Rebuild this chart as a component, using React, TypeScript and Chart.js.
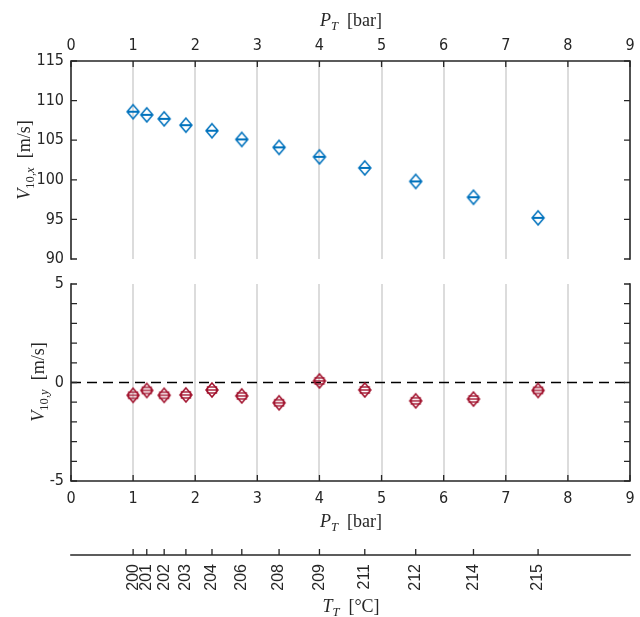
import React, { useEffect, useRef } from 'react';
import { Chart, registerables } from 'chart.js';
Chart.register(...registerables);

// ---- data ----
const pressure = [1.0, 1.22, 1.5, 1.85, 2.27, 2.75, 3.35, 4.0, 4.73, 5.55, 6.48, 7.52];
const temperature = ['200', '201', '202', '203', '204', '206', '208', '209', '211', '212', '214', '215'];
const vx = [108.6, 108.2, 107.7, 106.9, 106.2, 105.1, 104.1, 102.9, 101.5, 99.8, 97.8, 95.2];
const vy = [-0.65, -0.4, -0.65, -0.63, -0.38, -0.68, -1.03, 0.08, -0.38, -0.93, -0.84, -0.4];
const pTicks = [0, 1, 2, 3, 4, 5, 6, 7, 8, 9];
const vxTicks = [90, 95, 100, 105, 110, 115];
const vyLabelTicks = [-5, 0, 5];
const vyMinorTicks = [-5, -4, -3, -2, -1, 0, 1, 2, 3, 4, 5];
const zeroLine = [0, 0];
const zeroLineX = [0, 9];

const BLUE = '#0072BD';
const RED = '#A2142F';
const AXIS = '#262626';
const GRID = '#dcdcdc';
const TICK_FONT = { family: "'Liberation Sans Narrow', 'DejaVu Sans Condensed', 'Liberation Sans', Arial, sans-serif", size: 16 };
const ROT_FONT = { family: "'Liberation Sans', Arial, sans-serif", size: 16 };

type FrameCfg = {
  top?: boolean; bottom?: boolean; left?: boolean; right?: boolean;
  xTicks?: number[]; xEdge?: 'top' | 'bottom';
  yTicks?: number[]; yAxisId?: string;
};

const framePlugin = (id: string, cfg: FrameCfg) => ({
  id,
  afterDraw(chart: any) {
    const { ctx, chartArea: a, scales } = chart;
    const xs = scales.x;
    const ys = scales[cfg.yAxisId || 'y'];
    const L = 6;
    ctx.save();
    ctx.strokeStyle = AXIS;
    ctx.lineWidth = 1.6;
    ctx.lineCap = 'square';
    ctx.beginPath();
    if (cfg.top) { ctx.moveTo(a.left, a.top); ctx.lineTo(a.right, a.top); }
    if (cfg.bottom) { ctx.moveTo(a.left, a.bottom); ctx.lineTo(a.right, a.bottom); }
    if (cfg.left) { ctx.moveTo(a.left, a.top); ctx.lineTo(a.left, a.bottom); }
    if (cfg.right) { ctx.moveTo(a.right, a.top); ctx.lineTo(a.right, a.bottom); }
    ctx.stroke();
    ctx.lineCap = 'butt';
    ctx.lineWidth = 1.3;
    ctx.beginPath();
    (cfg.xTicks || []).forEach((v) => {
      const px = xs.getPixelForValue(v);
      if (cfg.xEdge === 'top') { ctx.moveTo(px, a.top); ctx.lineTo(px, a.top + L); }
      else { ctx.moveTo(px, a.bottom); ctx.lineTo(px, a.bottom - L); }
    });
    if (ys) {
      (cfg.yTicks || []).forEach((v) => {
        const py = ys.getPixelForValue(v);
        if (cfg.left) { ctx.moveTo(a.left, py); ctx.lineTo(a.left + L, py); }
        if (cfg.right) { ctx.moveTo(a.right, py); ctx.lineTo(a.right - L, py); }
      });
    }
    ctx.stroke();
    ctx.restore();
  },
});

const gridColor = (c: any) => (c.tick && c.tick.value > 0 && c.tick.value < 9 ? GRID : 'rgba(0,0,0,0)');

const baseOpts = {
  animation: false as const,
  responsive: false,
  maintainAspectRatio: false,
  events: [] as any[],
  plugins: { legend: { display: false }, tooltip: { enabled: false } },
};

// marker glyph: diamond with a horizontal error-bar stroke (and optional small box)
function makeMarker(color: string, withBox: boolean): HTMLCanvasElement {
  const cv = document.createElement('canvas');
  cv.width = 18; cv.height = 18;
  const g = cv.getContext('2d')!;
  const cx = 9, cy = 9;
  g.strokeStyle = color;
  g.lineWidth = 1.5;
  g.beginPath();
  g.moveTo(cx, cy - 7); g.lineTo(cx + 6, cy); g.lineTo(cx, cy + 7); g.lineTo(cx - 6, cy); g.closePath();
  g.stroke();
  if (withBox) {
    g.lineWidth = 1.4;
    g.strokeRect(cx - 4.5, cy - 3, 9, 6);
    g.beginPath(); g.moveTo(cx - 4.5, cy); g.lineTo(cx + 4.5, cy); g.stroke();
  } else {
    g.lineWidth = 2;
    g.beginPath(); g.moveTo(cx - 6, cy); g.lineTo(cx + 6, cy); g.stroke();
  }
  return cv;
}

const markerSet = (ys: number[], color: string, withBox: boolean) => ({
  data: pressure.map((p, i) => ({ x: p, y: ys[i] })),
  pointStyle: makeMarker(color, withBox),
  pointRadius: 7,
  borderColor: color,
  showLine: false,
});

function useChart(ref: React.RefObject<HTMLCanvasElement | null>, make: (c: HTMLCanvasElement) => Chart) {
  useEffect(() => {
    if (!ref.current) return;
    const ch = make(ref.current);
    return () => ch.destroy();
  }, []);
}

export default function App() {
  const topRef = useRef<HTMLCanvasElement | null>(null);
  const botRef = useRef<HTMLCanvasElement | null>(null);
  const tRef = useRef<HTMLCanvasElement | null>(null);

  useChart(topRef, (c) => new Chart(c, {
    type: 'scatter',
    data: { datasets: [markerSet(vx, BLUE, false)] },
    options: {
      ...baseOpts,
      layout: { padding: { left: 0, right: 0, top: 0, bottom: 11 } },
      scales: {
        x: {
          type: 'linear', position: 'top', min: 0, max: 9,
          afterBuildTicks: (s: any) => { s.ticks = pTicks.map((v) => ({ value: v })); },
          afterFit: (s: any) => { s.height = 61; s.paddingLeft = 0; s.paddingRight = 0; },
          ticks: { font: TICK_FONT, color: AXIS, padding: 6, autoSkip: false, maxRotation: 0 },
          grid: { color: gridColor, lineWidth: 2, drawTicks: false },
          border: { display: false },
        },
        y: {
          type: 'linear', position: 'left', min: 90, max: 115,
          afterBuildTicks: (s: any) => { s.ticks = vxTicks.map((v) => ({ value: v })); },
          afterFit: (s: any) => { s.width = 71; s.paddingTop = 0; s.paddingBottom = 0; },
          ticks: { font: TICK_FONT, color: AXIS, padding: 7 },
          grid: { display: false, drawTicks: false },
          border: { display: false },
        },
        y2: {
          type: 'linear', position: 'right', min: 90, max: 115,
          afterFit: (s: any) => { s.width = 10; s.paddingTop = 0; s.paddingBottom = 0; },
          ticks: { display: false },
          grid: { display: false, drawTicks: false },
          border: { display: false },
        },
      },
    } as any,
    plugins: [framePlugin('frameTop', { top: true, left: true, right: true, xTicks: pTicks, xEdge: 'top', yTicks: vxTicks })],
  }));

  useChart(botRef, (c) => new Chart(c, {
    type: 'scatter',
    data: {
      datasets: [
        markerSet(vy, RED, true),
        { data: zeroLineX.map((x, i) => ({ x, y: zeroLine[i] })), showLine: true, borderColor: '#000', borderWidth: 1.5, borderDash: [10, 6], pointRadius: 0 },
      ],
    },
    options: {
      ...baseOpts,
      layout: { padding: { left: 0, right: 0, top: 14, bottom: 0 } },
      scales: {
        x: {
          type: 'linear', position: 'bottom', min: 0, max: 9,
          afterBuildTicks: (s: any) => { s.ticks = pTicks.map((v) => ({ value: v })); },
          afterFit: (s: any) => { s.height = 59; s.paddingLeft = 0; s.paddingRight = 0; },
          ticks: { font: TICK_FONT, color: AXIS, padding: 8, autoSkip: false, maxRotation: 0 },
          grid: { color: gridColor, lineWidth: 2, drawTicks: false },
          border: { display: false },
        },
        y: {
          type: 'linear', position: 'left', min: -5, max: 5,
          afterBuildTicks: (s: any) => { s.ticks = vyLabelTicks.map((v) => ({ value: v })); },
          afterFit: (s: any) => { s.width = 71; s.paddingTop = 0; s.paddingBottom = 0; },
          ticks: { font: TICK_FONT, color: AXIS, padding: 7 },
          grid: { display: false, drawTicks: false },
          border: { display: false },
        },
        y2: {
          type: 'linear', position: 'right', min: -5, max: 5,
          afterFit: (s: any) => { s.width = 10; s.paddingTop = 0; s.paddingBottom = 0; },
          ticks: { display: false },
          grid: { display: false, drawTicks: false },
          border: { display: false },
        },
      },
    } as any,
    plugins: [framePlugin('frameBot', { bottom: true, left: true, right: true, xTicks: pTicks, xEdge: 'bottom', yTicks: vyMinorTicks })],
  }));

  useChart(tRef, (c) => new Chart(c, {
    type: 'scatter',
    data: { datasets: [] },
    options: {
      ...baseOpts,
      layout: { padding: { left: 71, right: 10, top: 0, bottom: 0 } },
      scales: {
        x: {
          type: 'linear', position: 'bottom', min: 0, max: 9,
          afterBuildTicks: (s: any) => { s.ticks = pressure.map((v) => ({ value: v })); },
          afterFit: (s: any) => { s.height = 62; s.paddingLeft = 0; s.paddingRight = 0; },
          ticks: {
            font: ROT_FONT, color: AXIS, padding: 9, autoSkip: false, minRotation: 90, maxRotation: 90,
            callback: (_v: any, i: number) => temperature[i],
          },
          grid: { display: false, drawTicks: false },
          border: { display: false },
        },
        y: { display: false, min: 0, max: 1 },
      },
    } as any,
    plugins: [framePlugin('frameT', { bottom: true, xTicks: pressure, xEdge: 'bottom' })],
  }));

  const title: React.CSSProperties = {
    position: 'absolute', fontFamily: "'Liberation Serif', 'DejaVu Serif', serif", fontSize: 18,
    color: AXIS, whiteSpace: 'nowrap', lineHeight: 1, transform: 'translate(-50%, -50%)',
  };
  const rot: React.CSSProperties = { ...title, transform: 'translate(-50%, -50%) rotate(-90deg)' };
  const sub: React.CSSProperties = { fontSize: '0.7em', position: 'relative', top: '0.3em' };

  return (
    <div style={{ position: 'fixed', left: 0, top: 0, width: 640, height: 617, background: '#fff', overflow: 'hidden' }}>
      <canvas ref={topRef} width={640} height={270} style={{ position: 'absolute', left: 0, top: 0, width: 640, height: 270 }} />
      <canvas ref={botRef} width={640} height={270} style={{ position: 'absolute', left: 0, top: 270, width: 640, height: 270 }} />
      <canvas ref={tRef} width={640} height={77} style={{ position: 'absolute', left: 0, top: 540, width: 640, height: 77 }} />
      <div style={{ ...title, left: 351, top: 20 }}><i>P</i><span style={sub}><i>T</i></span>&nbsp;&nbsp;[bar]</div>
      <div style={{ ...title, left: 351, top: 521 }}><i>P</i><span style={sub}><i>T</i></span>&nbsp;&nbsp;[bar]</div>
      <div style={{ ...title, left: 351, top: 606 }}><i>T</i><span style={sub}><i>T</i></span>&nbsp;&nbsp;[°C]</div>
      <div style={{ ...rot, left: 24, top: 160 }}><i>V</i><span style={sub}>10,<i>x</i></span>&nbsp;&nbsp;[m/s]</div>
      <div style={{ ...rot, left: 38, top: 382 }}><i>V</i><span style={sub}>10,<i>y</i></span>&nbsp;&nbsp;[m/s]</div>
    </div>
  );
}
